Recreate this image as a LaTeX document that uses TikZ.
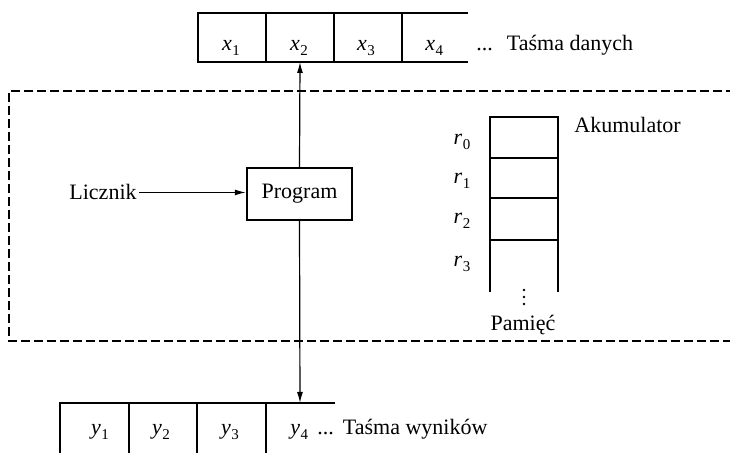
\documentclass[tikz,border=0pt]{standalone}
\usepackage{fontspec}
\setmainfont{Liberation Serif}
\usetikzlibrary{arrows.meta}
% italic letter with a small upright subscript digit
\newcommand{\cellvar}[2]{\textit{#1}\kern0.2pt\raisebox{-0.4ex}{\fontsize{7.5}{8}\selectfont #2}}

\begin{document}
\begin{tikzpicture}[x=0.5pt,y=-0.5pt,
  font=\fontsize{11}{13}\selectfont,
  frame/.style={line width=1pt},
  progbox/.style={draw,line width=1.2pt,minimum width=52.5pt,minimum height=26pt,inner sep=0pt},
  link/.style={line width=0.6pt,-{Latex[length=5.5pt,width=3pt]}},
  lbl/.style={anchor=base,inner sep=0pt},
  lblw/.style={anchor=base west,inner sep=0pt},
  machine/.style={line width=0.6pt,dash pattern=on 4.5pt off 2pt}]
\useasboundingbox (0,0) rectangle (730,453);

% input tape
\draw[frame] (468,13) -- (198,13) -- (198,62) -- (468,62);
\foreach \xx in {266,334,402} \draw[frame] (\xx,13) -- (\xx,62);
\node[lbl] (x1) at (231,51) {\cellvar{x}{1}};
\node[lbl] (x2) at (299,51) {\cellvar{x}{2}};
\node[lbl] (x3) at (366,51) {\cellvar{x}{3}};
\node[lblw] (x4) at (425,51) {\cellvar{x}{4}};
\node[lblw] (inlabel) at (476,51) {...\hspace{7pt}Taśma danych};
\coordinate (intape) at (300,62);

% output tape
\draw[frame] (335,403) -- (60,403) -- (60,460);
\foreach \xx in {128.5,197,265.5} \draw[frame] (\xx,403) -- (\xx,460);
\node[lbl] (y1) at (100,435) {\cellvar{y}{1}};
\node[lbl] (y2) at (161,435) {\cellvar{y}{2}};
\node[lbl] (y3) at (230,435) {\cellvar{y}{3}};
\node[lblw] (y4) at (290,435) {\cellvar{y}{4}};
\node[lblw] (outlabel) at (317,435) {...\hspace{4.5pt}Taśma wyników};
\coordinate (outtape) at (300,403);

% machine boundary
\draw[machine] (735,91) -- (9,91) -- (9,341) -- (735,341);

% program and counter
\node[progbox] (prog) at (299.5,194) {Program};
\node[anchor=base east,inner sep=1pt] (counter) at (139,200) {Licznik};
\draw[link] (counter.east) -- (counter.east -| prog.west);
\draw[link] (prog.north) -- (intape);
\draw[link] (prog.south) -- (outtape);

% memory registers
\draw[frame] (490,292) -- (490,117) -- (558,117) -- (558,292);
\foreach \yy in {158,198,240} \draw[frame] (490,\yy) -- (558,\yy);
\node[lbl] (r0) at (462,145) {\cellvar{r}{0}};
\node[lbl] (r1) at (462,184) {\cellvar{r}{1}};
\node[lbl] (r2) at (462,224) {\cellvar{r}{2}};
\node[lbl] (r3) at (462,267) {\cellvar{r}{3}};
% continuation dots below the registers
\foreach \yy in {290,297,304} \fill (524,\yy) circle[radius=1.3];
\node[lblw] (acc) at (574,133) {Akumulator};
\node[lbl] (mem) at (523,331) {Pamięć};
\end{tikzpicture}
\end{document}
